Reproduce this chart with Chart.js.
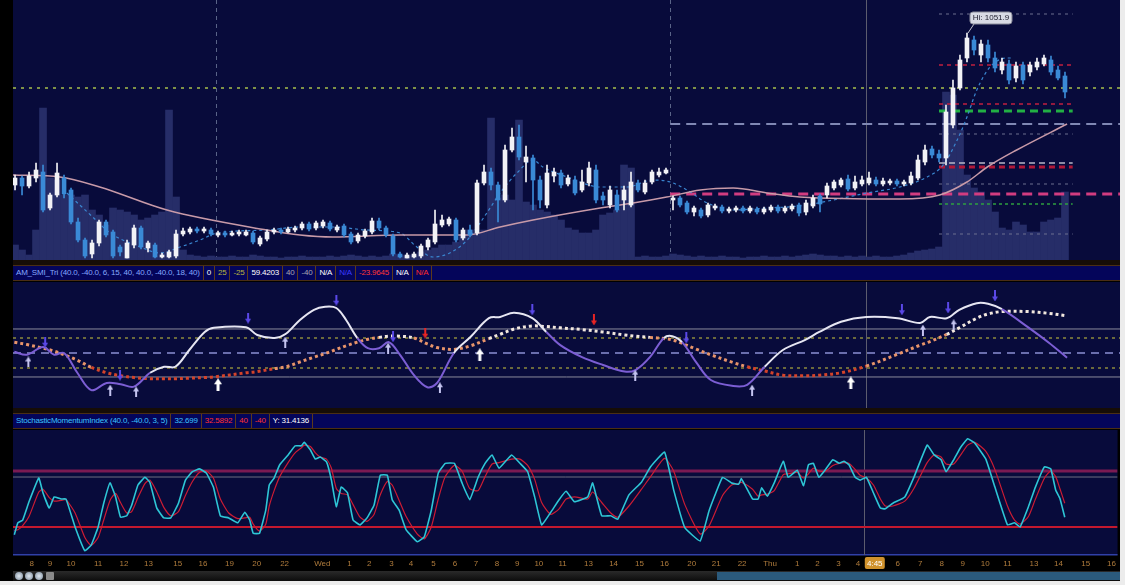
<!DOCTYPE html>
<html>
<head>
<meta charset="utf-8">
<script src="https://cdn.jsdelivr.net/npm/chart.js@4.4.1/dist/chart.umd.min.js"></script>
<style>
  html, body { margin: 0; padding: 0; background: #ececec; }
  #wrap { position: absolute; left: 0; top: 0; width: 1120px; height: 581px; background: #000; overflow: hidden; }
  canvas { position: absolute; left: 13px; }
  .band { position: absolute; left: 13px; width: 1107px; background: #160d06; }
  .hdr { position: absolute; left: 13px; width: 1107px; height: 14px; background: #04055a;
         border-top: 1px solid #4a2e14; border-bottom: 1px solid #4a2e14;
         font: 8px "Liberation Sans", Arial, sans-serif; letter-spacing: -0.2px; line-height: 14px;
         display: flex; white-space: nowrap; }
  .hdr span { padding: 0 3px; border-right: 1px solid #5c3a1a; }
  #foot { position: absolute; left: 13px; top: 571px; width: 1107px; height: 10px;
          background: linear-gradient(#2a2a2a, #0c0c0c); }
  #scroll { position: absolute; left: 704px; top: 1px; width: 403px; height: 8px; background: #2b5a7c; }
  .ico { position: absolute; top: 1px; width: 8px; height: 8px; border-radius: 50%; background: radial-gradient(#e0e8f0, #7a8a9a); }
</style>
</head>
<body>
<div id="wrap">
  <canvas id="price" width="1107" height="260" style="top:0"></canvas>
  <div class="band" style="top:260px;height:5px"></div>
  <div class="hdr" style="top:265px">
    <span style="color:#84a8ff">AM_SMI_Tri (40.0, -40.0, 6, 15, 40, 40.0, -40.0, 18, 40)</span>
    <span style="color:#fff">0</span>
    <span style="color:#b8b440">25</span>
    <span style="color:#b8b440">-25</span>
    <span style="color:#fff">59.4203</span>
    <span style="color:#a8a8b0">40</span>
    <span style="color:#a8a8b0">-40</span>
    <span style="color:#fff">N/A</span>
    <span style="color:#3a3aff">N/A</span>
    <span style="color:#ff3636">-23.9645</span>
    <span style="color:#fff">N/A</span>
    <span style="color:#ff2a2a">N/A</span>
  </div>
  <canvas id="smi" width="1107" height="126" style="top:282px"></canvas>
  <div class="band" style="top:408px;height:5px"></div>
  <div class="hdr" style="top:413px">
    <span style="color:#3cc4ff">StochasticMomentumIndex (40.0, -40.0, 3, 5)</span>
    <span style="color:#3cc4ff">32.699</span>
    <span style="color:#ff3030">32.5892</span>
    <span style="color:#ff3030">40</span>
    <span style="color:#ff3030">-40</span>
    <span style="color:#fff">Y: 31.4136</span>
  </div>
  <canvas id="stoch" width="1107" height="141" style="top:430px"></canvas>
  <div id="foot">
    <div class="ico" style="left:2px"></div>
    <div class="ico" style="left:12px"></div>
    <div class="ico" style="left:22px"></div>
    <div class="ico" style="left:33px;border-radius:1px;background:#8a8a8a"></div>
    <div id="scroll"></div>
  </div>
</div>

<script>
// x is the bar number (one bar every 20 minutes)
const xMin = -0.29, xMax = 157.86;

const tickPos = [2.4, 5, 8, 11.9, 15.6, 19.1, 23.3, 26.9, 30.7, 34.6,
  38.6, 44, 47.9, 50.7, 53.9, 56.7, 59.9, 63, 66, 69,
  71.9, 75, 78.4, 82.1, 85.7, 89.4, 93, 96.9, 100.4, 104.1,
  108.1, 112, 114.9, 117.9, 120.7, 123.1, 126.4, 129.6, 132.7, 135.7,
  138.9, 142.1, 145.9, 149.4, 153.3, 157];
const tickLabels = ['8', '9', '10', '11', '12', '13', '15', '16', '19', '20',
  '22', 'Wed', '1', '2', '3', '4', '5', '6', '7', '8',
  '9', '10', '11', '13', '14', '15', '16', '20', '21', '22',
  'Thu', '1', '2', '3', '4', '4:45', '6', '7', '8', '9',
  '10', '11', '13', '14', '15', '16'];

// price bars
const opens = [
  1021.5, 1022.9, 1021.3, 1022.9, 1024.1, 1016.9, 1019.5, 1022.9, 1020.5, 1014.1,
  1010.5, 1007.7, 1009.9, 1014.1, 1012.1, 1009.1, 1006.9, 1009.5, 1012.9, 1008.9,
  1009.5, 1007.1, 1007.1, 1007.3, 1011.7, 1012.1, 1012.7, 1012.3, 1012.5, 1011.5,
  1011.9, 1011.5, 1011.7, 1011.5, 1011.9, 1009.7, 1010.7, 1012.1, 1012.5, 1012.1,
  1012.5, 1012.9, 1013.7, 1012.9, 1013.3, 1013.9, 1012.5, 1013.3, 1011.7, 1010.3,
  1011.3, 1012.1, 1014.3, 1012.9, 1011.3, 1007.7, 1006.9, 1007.1, 1007.3, 1009.1,
  1010.1, 1013.5, 1013.7, 1014.5, 1010.9, 1012.5, 1011.9, 1021.9, 1024.1, 1021.5,
  1018.5, 1028.5, 1031.1, 1026.1, 1026.9, 1022.5, 1017.5, 1023.3, 1023.9, 1021.7,
  1022.5, 1020.5, 1021.9, 1024.5, 1019.3, 1017.5, 1019.5, 1018.5, 1017.5, 1021.9,
  1020.1, 1022.1, 1023.5, 1023.9, 1018.5, 1018.9, 1017.9, 1016.1, 1016.5, 1015.5,
  1016.9, 1017.1, 1016.3, 1016.5, 1016.9, 1016.3, 1016.7, 1016.1, 1016.5, 1017.1,
  1016.3, 1016.7, 1017.5, 1016.1, 1017.3, 1019.3, 1019.5, 1020.9, 1021.5, 1022.7,
  1020.9, 1021.7, 1021.9, 1022.5, 1021.7, 1021.9, 1022.3, 1021.7, 1021.9, 1022.9,
  1026.1, 1028.7, 1027.7, 1026.9, 1033.5, 1040.9, 1046.9, 1050.5, 1047.5, 1049.5,
  1046.9, 1044.5, 1045.7, 1042.9, 1045.5, 1044.1, 1045.1, 1045.7, 1046.5, 1044.5, 1043.3];
const closes = [
  1022.9, 1021.3, 1023.3, 1024.5, 1016.5, 1019.5, 1023.9, 1019.7, 1014.1, 1010.5,
  1007.3, 1009.9, 1014.1, 1011.5, 1007.3, 1008.1, 1009.9, 1012.9, 1009.1, 1009.9,
  1007.1, 1007.5, 1008.1, 1011.7, 1012.3, 1012.7, 1012.3, 1012.7, 1011.7, 1011.9,
  1011.5, 1011.9, 1012.1, 1012.1, 1010.1, 1010.9, 1012.1, 1012.5, 1012.1, 1012.7,
  1012.9, 1013.7, 1012.7, 1013.9, 1014.1, 1012.7, 1013.1, 1011.5, 1010.1, 1011.5,
  1012.3, 1014.3, 1012.9, 1011.5, 1007.7, 1007.1, 1007.5, 1007.7, 1009.3, 1010.5,
  1013.7, 1014.5, 1014.7, 1010.5, 1012.5, 1011.5, 1021.9, 1024.1, 1021.5, 1018.5,
  1028.5, 1031.1, 1027.1, 1027.1, 1022.5, 1018.5, 1023.9, 1024.1, 1021.5, 1022.9,
  1019.9, 1022.1, 1024.9, 1018.5, 1018.5, 1020.5, 1016.5, 1020.5, 1022.1, 1020.5,
  1021.9, 1024.1, 1024.1, 1024.5, 1018.9, 1017.5, 1016.1, 1016.9, 1015.3, 1017.5,
  1017.3, 1016.3, 1016.7, 1016.9, 1016.3, 1016.9, 1016.1, 1016.7, 1017.1, 1016.3,
  1016.9, 1017.3, 1015.9, 1017.9, 1018.9, 1017.7, 1021.3, 1022.1, 1022.5, 1020.7,
  1022.1, 1022.5, 1022.9, 1021.7, 1022.3, 1022.3, 1021.7, 1022.1, 1023.3, 1026.5,
  1028.5, 1027.5, 1026.9, 1036.1, 1040.9, 1046.5, 1050.9, 1048.5, 1049.7, 1046.9,
  1044.9, 1046.1, 1042.5, 1045.3, 1042.5, 1045.5, 1046.1, 1046.9, 1044.1, 1042.9, 1040.1];
const highs = [
  1023.5, 1023.3, 1024.1, 1025.9, 1025.5, 1019.9, 1025.9, 1023.5, 1020.9, 1014.9,
  1010.9, 1010.5, 1014.5, 1014.5, 1012.5, 1009.5, 1010.5, 1013.5, 1013.3, 1010.3,
  1009.9, 1007.9, 1008.5, 1012.5, 1012.9, 1013.1, 1013.1, 1013.1, 1012.9, 1012.3,
  1012.3, 1012.3, 1012.5, 1012.5, 1012.3, 1011.3, 1012.5, 1012.9, 1012.9, 1013.1,
  1013.3, 1014.1, 1014.1, 1014.3, 1014.5, 1014.3, 1013.5, 1013.7, 1012.1, 1011.9,
  1012.7, 1014.9, 1014.9, 1013.3, 1011.7, 1008.1, 1007.9, 1008.1, 1009.7, 1010.9,
  1016.5, 1015.5, 1015.1, 1014.9, 1012.9, 1013.5, 1022.5, 1025.5, 1024.9, 1022.1,
  1029.5, 1032.9, 1033.5, 1029.3, 1027.5, 1023.3, 1025.5, 1024.9, 1024.5, 1023.5,
  1023.3, 1024.5, 1026.1, 1025.5, 1020.1, 1021.3, 1020.5, 1021.3, 1024.1, 1022.5,
  1022.5, 1024.5, 1024.9, 1024.9, 1019.3, 1019.3, 1018.3, 1017.3, 1016.9, 1017.9,
  1017.7, 1017.5, 1017.1, 1017.3, 1017.3, 1017.3, 1017.1, 1017.1, 1017.5, 1017.5,
  1017.3, 1017.7, 1017.9, 1018.5, 1019.5, 1019.7, 1021.9, 1022.5, 1022.9, 1023.5,
  1023.3, 1023.3, 1024.1, 1023.1, 1022.9, 1022.7, 1022.7, 1022.5, 1024.1, 1027.5,
  1029.5, 1029.3, 1028.5, 1037.5, 1042.5, 1047.5, 1051.9, 1051.3, 1050.5, 1050.5,
  1048.1, 1046.9, 1046.5, 1046.1, 1046.1, 1046.1, 1046.9, 1047.5, 1047.3, 1045.3, 1044.1];
const lows = [
  1020.5, 1019.5, 1020.9, 1022.1, 1016.1, 1016.5, 1019.1, 1018.9, 1013.7, 1010.1,
  1006.9, 1006.9, 1009.3, 1011.1, 1006.9, 1007.3, 1006.9, 1008.9, 1008.7, 1008.1,
  1006.9, 1006.9, 1006.9, 1006.9, 1011.3, 1011.7, 1011.9, 1011.9, 1011.3, 1011.1,
  1011.1, 1011.3, 1011.3, 1011.3, 1009.7, 1009.3, 1010.3, 1011.7, 1011.7, 1011.9,
  1012.1, 1012.5, 1012.3, 1012.5, 1012.9, 1012.3, 1012.1, 1011.1, 1009.7, 1009.9,
  1010.9, 1011.7, 1012.5, 1011.1, 1007.3, 1006.9, 1006.9, 1006.9, 1006.9, 1008.5,
  1009.7, 1013.1, 1013.3, 1010.1, 1010.5, 1011.1, 1011.5, 1021.5, 1020.5, 1014.1,
  1018.1, 1028.1, 1026.5, 1022.1, 1016.5, 1016.9, 1016.9, 1022.1, 1020.9, 1021.3,
  1019.5, 1020.1, 1021.3, 1017.9, 1017.5, 1016.9, 1016.1, 1016.5, 1017.1, 1020.1,
  1019.7, 1021.7, 1023.1, 1023.7, 1016.5, 1017.1, 1015.7, 1015.3, 1014.9, 1015.1,
  1016.5, 1015.9, 1015.9, 1016.1, 1015.9, 1015.9, 1015.7, 1015.7, 1016.1, 1015.9,
  1015.9, 1016.3, 1015.3, 1015.5, 1016.9, 1016.1, 1018.9, 1020.5, 1021.1, 1020.3,
  1020.5, 1021.3, 1021.5, 1021.3, 1021.3, 1021.5, 1021.3, 1021.3, 1021.5, 1022.5,
  1025.5, 1026.9, 1026.1, 1025.5, 1032.9, 1040.5, 1046.1, 1047.5, 1046.1, 1046.1,
  1044.1, 1043.7, 1041.7, 1042.1, 1041.7, 1043.3, 1044.5, 1045.3, 1043.5, 1042.5, 1038.9];
const volumes = [
  150, 100, 50, 300, 1520, 820, 800, 650, 650, 630,
  650, 500, 450, 350, 520, 500, 480, 450, 400, 420,
  450, 480, 1500, 630, 100, 50, 40, 30, 40, 30,
  30, 40, 30, 30, 50, 40, 30, 30, 20, 30,
  30, 40, 30, 30, 30, 40, 30, 40, 50, 40,
  30, 40, 30, 40, 60, 50, 40, 50, 80, 100,
  120, 150, 150, 180, 250, 300, 270, 300, 1420, 620,
  650, 600, 1400, 580, 550, 500, 480, 450, 400, 320,
  300, 270, 270, 300, 450, 470, 500, 950, 920, 30,
  40, 30, 30, 40, 60, 50, 40, 30, 40, 30,
  30, 40, 30, 30, 20, 30, 30, 40, 30, 30,
  40, 30, 40, 50, 60, 50, 40, 40, 30, 40,
  30, 40, 30, 40, 30, 30, 40, 50, 70, 90,
  100, 110, 130, 1680, 1650, 1300, 850, 720, 680, 600,
  480, 320, 300, 380, 350, 280, 280, 380, 400, 420, 680];

// slow average (pink) and fast average (blue dashed)
const maX = [-0.29, 6.4, 12.1, 21.7, 36, 40.7, 45.4, 55, 64.6, 69.3, 74, 83.6, 88.3, 93.1,
  97.9, 102.6, 107.4, 112.1, 126.4, 132.1, 136, 138.9, 143.1, 150.3];
const maY = [1023.5, 1023.1, 1021.1, 1016.5, 1012.5, 1011.5, 1011.1, 1011.5, 1011.5, 1013.1,
  1014.5, 1016.9, 1017.9, 1019.1, 1020.5, 1020.9, 1019.9, 1019.1, 1018.7, 1019.5, 1022.1,
  1025.1, 1028.5, 1033.7];
const fastX = [7.4, 11.1, 13.6, 17.9, 20.7, 23.6, 26.4, 28.9, 36, 40.7, 45.4, 50.3, 55, 57.4,
  59.7, 62.1, 64.6, 67.4, 69.3, 71.7, 74, 75.4, 78.9, 83.6, 87.4, 91.1, 93.6, 96, 98.9, 102.6,
  107.4, 112.1, 116.9, 121.7, 126.4, 130.3, 132.6, 134.6, 136, 137.4, 139.3, 141.7, 142.6];
const fastY = [1019.9, 1015.1, 1011.9, 1009.1, 1007.9, 1009.1, 1010.5, 1011.9, 1012.5, 1013.1,
  1013.1, 1012.5, 1011.9, 1009.1, 1007.1, 1007.9, 1010.5, 1015.9, 1019.9, 1023.9, 1026.5,
  1025.1, 1023.1, 1021.1, 1021.1, 1022.5, 1022.1, 1020.5, 1017.9, 1016.5, 1016.9, 1017.3,
  1018.5, 1019.9, 1021.1, 1023.1, 1025.5, 1030.5, 1035.1, 1040.5, 1045.1, 1046.9, 1046.9];

// price levels
const fullLevel = 1040.9;
const longLevels = [1033.7, 1019.7];
const clusterLevels = [1055.7, 1045.5, 1037.7, 1036.3, 1031.7, 1025.9, 1025.1, 1021.7, 1017.7, 1011.7];
const longFrom = 93.6, clusterFrom = 132, clusterTo = 151.1;
const sessionBreaks = [28.7, 93.6];
const cursorX = 121.6;

// AM_SMI_Tri
const smiLevels = [40, 25, 0, -25, -40];
const smiX = [-0.1, 1.7, 4, 5.6, 7, 8.9, 10.9, 13.1, 15.1, 17,
  19.3, 21.3, 22.9, 24.9, 27.1, 28.4, 33, 34.6, 37.1, 38.7,
  40.7, 42.7, 44.3, 45.9, 47.3, 48.9, 50.4, 52, 53.4, 55,
  57, 58.9, 60.3, 62.7, 65.1, 67.7, 69.3, 71.3, 73.9, 75.9,
  77.9, 81, 84, 87.1, 88.7, 90.7, 92.7, 93.9, 95.3, 97.4,
  99.4, 102.6, 104.6, 107.1, 109.7, 112.9, 114.9, 118, 121.6, 126.1,
  129.3, 130.7, 133.1, 134.9, 137.4, 139, 141, 144.7, 147.7, 150.3];
const smiMain = [2, -3, 10, -3, 0, -33, -62, -50, -52, -56,
  -33, -23, -23, 5, 35, 42, 43, 30, 25, 32,
  55, 72, 77, 75, 55, 25, 8, 8, 18, -3,
  -37, -57, -50, 0, 27, 58, 60, 67, 58, 35,
  13, -7, -20, -31, -28, -7, 25, 28, 18, -17,
  -45, -55, -53, -23, 5, 22, 35, 52, 60, 58,
  50, 60, 58, 72, 83, 82, 73, 43, 17, -8];
const smiSignal = [18, 14, 8, 3, -3, -12, -24, -33, -38, -41,
  -43, -43, -43, -42, -41, -40, -33, -31, -26, -23,
  -15, -7, -1, 6, 12, 18, 23, 26, 28, 28,
  25, 15, 9, 6, 12, 24, 31, 40, 45, 44,
  42, 39, 35, 30, 28, 26, 24, 22, 16, 6,
  -3, -16, -23, -30, -37, -38, -37, -33, -22, -2,
  13, 19, 31, 42, 58, 65, 69, 69, 66, 62];
const sellX = [4.3, 15, 33.3, 45.9, 54, 73.9, 95.9, 126.7, 133.3, 140];
const sellY = [18, -37, 58, 88, 27, 72, 25, 72, 75, 95];
const exitX = [58.6, 82.7];
const exitY = [33, 55];
const buyX = [1.9, 13.6, 17.3, 38.6, 53.3, 60.7, 88.6, 105.3, 129.7, 134.1];
const buyY = [-15, -62, -65, 18, 8, -58, -37, -62, 38, 47];
const strongBuyX = [29, 66.4, 119.4];
const strongBuyY = [-53, -3, -50];

// StochasticMomentumIndex
const stochLevels = [40, -40];
const cursorY = 31.4136;
const stochX = [-0.1, 0.4, 1.1, 2, 3.4, 4, 4.9, 5.6, 6.6, 7.3,
  8.6, 10, 10.9, 11.9, 12.7, 13.6, 14.4, 15.1, 16, 16.7,
  17.6, 18.6, 19.3, 20.3, 21.3, 22.3, 23.4, 24.4, 25.4, 26.4,
  27.4, 28.4, 29.4, 30.6, 31.9, 32.9, 33.6, 34.1, 35, 35.9,
  36.4, 37.1, 37.9, 39.1, 40.1, 41, 41.4, 42.3, 43, 43.7,
  44.6, 45.3, 46, 46.7, 47.6, 48.4, 49.4, 50.4, 51.4, 52.3,
  53.3, 54, 55, 56, 57.6, 58.6, 59.6, 60.6, 61.6, 62.9,
  64, 65.1, 66.3, 67.3, 68.3, 69.3, 71.1, 72.3, 73.4, 74.4,
  75.4, 76.7, 77.9, 78.9, 80.1, 82, 82.7, 84, 85.3, 86.3,
  87.9, 89.7, 91, 93, 94.3, 95.9, 98.1, 99.4, 101.3, 102.6,
  103.6, 104, 105.6, 106.4, 106.9, 107.7, 108.7, 110, 110.7, 112,
  112.9, 113.6, 114.3, 115.1, 116.1, 117.1, 118, 118.7, 119.4, 120.3,
  121, 121.9, 122.9, 123.9, 124.6, 125.7, 127.4, 128.7, 130.6, 131.6,
  132.6, 133.3, 134.4, 135.4, 136.4, 137.4, 139, 140.3, 142.1, 143.1,
  143.9, 145.1, 146.1, 147.4, 148.3, 149, 149.6, 150.3];
const stochK = [-51, -34, -30, -4, 30, 9, -13, 3, 0, 0,
  -40, -74, -66, -40, -6, 23, 3, -26, -24, -9,
  20, 31, 24, -13, -27, -27, -6, 27, 39, 43,
  37, 17, -24, -27, -34, -19, -30, -49, -49, -16,
  20, 30, 49, 63, 76, 76, 81, 70, 57, 60,
  53, 27, -11, 17, 9, -30, -37, -27, -9, 34,
  34, -1, -16, -44, -61, -54, -16, 37, 51, 51,
  23, -1, 31, 51, 63, 44, 63, 51, 39, 3,
  -37, -19, -1, 11, -4, 3, 23, -24, -24, -29,
  6, 24, 46, 67, 13, -41, -60, -16, 31, 23,
  21, 29, 0, 0, 16, 4, 23, 54, 31, 41,
  19, 49, 51, 31, 43, 56, 51, 54, 49, 31,
  27, 31, 9, -13, -14, -6, 3, 31, 77, 63,
  56, 39, 56, 74, 86, 80, 57, 17, -37, -34,
  -40, -11, 17, 46, 43, 13, 1, -26];
const stochD = [-45, -44, -38, -25, 10, 14, 2, -3, -2, -1,
  -20, -55, -66, -55, -30, -2, 8, -5, -20, -18,
  2, 22, 27, 10, -12, -24, -18, 5, 25, 38,
  40, 30, 0, -20, -28, -27, -26, -36, -46, -36,
  -10, 12, 32, 52, 66, 73, 77, 75, 66, 60,
  57, 44, 15, 8, 6, -8, -26, -32, -22, 6,
  25, 20, -2, -25, -50, -57, -40, 0, 32, 48,
  40, 15, 12, 32, 50, 52, 57, 57, 48, 28,
  -5, -22, -14, 0, 3, 0, 10, -5, -20, -26,
  -10, 14, 32, 58, 40, -8, -50, -38, 5, 20,
  22, 24, 14, 4, 6, 7, 12, 35, 36, 38,
  30, 36, 44, 40, 40, 48, 51, 52, 51, 42,
  34, 30, 20, 0, -10, -10, -3, 15, 52, 63,
  60, 50, 50, 63, 77, 81, 68, 42, -10, -30,
  -36, -25, 0, 30, 40, 32, 15, -6];

const NAVY = '#080b3b';
const pts = (xs, ys) => xs.map((x, i) => ({ x, y: ys[i] }));

function hline(v, x0, x1, color, width, dash, yAxisID) {
  return { type: 'line', data: [{ x: x0, y: v }, { x: x1, y: v }], borderColor: color, borderWidth: width,
    borderDash: dash, pointRadius: 0, order: 8, yAxisID: yAxisID || 'y' };
}

// background, vertical guides
function panel(vlines) {
  return {
    id: 'panel',
    beforeDraw(chart) {
      const { ctx, chartArea: a } = chart;
      ctx.save();
      ctx.fillStyle = '#000';
      ctx.fillRect(0, 0, chart.width, chart.height);
      ctx.fillStyle = NAVY;
      ctx.fillRect(a.left, a.top, a.width, a.height);
      ctx.restore();
    },
    beforeDatasetsDraw(chart) {
      const { ctx, chartArea: a, scales } = chart;
      ctx.save();
      vlines.forEach(v => {
        const px = Math.round(scales.x.getPixelForValue(v.x)) + 0.5;
        ctx.strokeStyle = v.color;
        ctx.lineWidth = 1;
        ctx.setLineDash(v.dash || []);
        ctx.beginPath();
        ctx.moveTo(px, a.top);
        ctx.lineTo(px, a.bottom);
        ctx.stroke();
      });
      ctx.restore();
    }
  };
}

const baseOpts = (yMin, yMax) => ({
  responsive: false, animation: false, devicePixelRatio: 1, events: [],
  layout: { padding: 0, autoPadding: false },
  plugins: { legend: { display: false }, tooltip: { enabled: false } },
  scales: {
    x: { type: 'linear', min: xMin, max: xMax, display: false, offset: false },
    y: { min: yMin, max: yMax, display: false }
  }
});

// ---------- price panel ----------
const candleColors = closes.map((c, i) => c >= opens[i] ? '#f2f2f6' : '#3a8ad6');
const priceOpts = baseOpts(1006.5, 1058.5);
priceOpts.scales.yv = { min: 0, max: 2600, display: false };

const hiLabel = {
  id: 'hiLabel',
  afterDatasetsDraw(chart) {
    const { ctx, scales } = chart;
    const top = Math.max(...highs);
    const i = highs.indexOf(top);
    const px = scales.x.getPixelForValue(i), py = scales.y.getPixelForValue(top);
    ctx.save();
    ctx.strokeStyle = '#c8c8d0';
    ctx.lineWidth = 1;
    ctx.beginPath();
    ctx.moveTo(px + 1, py);
    ctx.lineTo(px + 7, py - 9);
    ctx.stroke();
    ctx.fillStyle = '#d8dae4';
    ctx.strokeStyle = '#8a8c9a';
    ctx.beginPath();
    ctx.roundRect(px + 3, py - 21, 42, 12, 3);
    ctx.fill();
    ctx.stroke();
    ctx.fillStyle = '#1a1a2a';
    ctx.font = '8px "Liberation Sans", Arial, sans-serif';
    ctx.textAlign = 'center';
    ctx.textBaseline = 'middle';
    ctx.fillText('Hi: ' + top.toFixed(1), px + 24, py - 15);
    ctx.restore();
  }
};

const clusterStyle = [
  ['#6c7090', 1, [3, 4]], ['#c02040', 1.5, [4, 4]], ['#c02040', 1.5, [4, 4]], ['#22b044', 3, [8, 5]],
  ['#6c7090', 1, [3, 4]], ['#b8b8c8', 1.5, [6, 4]], ['#b01838', 3, [6, 4]], ['#6c7090', 1, [3, 4]],
  ['#2ea040', 1.5, [3, 3]], ['#6c7090', 1, [3, 4]]
];

new Chart(document.getElementById('price'), {
  type: 'bar',
  data: {
    datasets: [
      { type: 'bar', data: pts(volumes.map((v, i) => i), volumes), yAxisID: 'yv', backgroundColor: '#262d68',
        barThickness: 7, grouped: false, order: 10 },
      hline(fullLevel, xMin, xMax, '#a6c04c', 1.5, [3, 5]),
      hline(longLevels[0], longFrom, xMax, '#8088b4', 2, [10, 6]),
      hline(longLevels[1], longFrom, xMax, '#d23c80', 3, [10, 6]),
      ...clusterLevels.map((v, k) => hline(v, clusterFrom, clusterTo, ...clusterStyle[k])),
      { type: 'line', data: pts(maX, maY), borderColor: '#c89aa8', borderWidth: 1.5, pointRadius: 0,
        cubicInterpolationMode: 'monotone', order: 6 },
      { type: 'line', data: pts(fastX, fastY), borderColor: '#3a86d0', borderWidth: 1.2, borderDash: [3, 3],
        pointRadius: 0, cubicInterpolationMode: 'monotone', order: 7 },
      { type: 'bar', data: highs.map((h, i) => ({ x: i, y: [lows[i], h] })), backgroundColor: candleColors,
        barThickness: 1, grouped: false, order: 2 },
      { type: 'bar', data: opens.map((o, i) => ({ x: i, y: [o, closes[i]] })), backgroundColor: candleColors,
        barThickness: 4, minBarLength: 1.5, grouped: false, order: 1 }
    ]
  },
  options: priceOpts,
  plugins: [panel([
    { x: sessionBreaks[0], color: '#5a6488', dash: [4, 4] },
    { x: sessionBreaks[1], color: '#5a6488', dash: [4, 4] },
    { x: cursorX, color: '#5c5c6e' }
  ]), hiLabel]
});

// ---------- SMI panel ----------
function arrow(color, down, w, h) {
  const c = document.createElement('canvas');
  c.width = w; c.height = h;
  const g = c.getContext('2d');
  g.fillStyle = color;
  const sw = Math.max(2, Math.round(w / 3));
  const head = Math.round(h * 0.45);
  if (down) {
    g.fillRect((w - sw) / 2, 0, sw, h - head + 1);
    g.beginPath(); g.moveTo(0, h - head); g.lineTo(w, h - head); g.lineTo(w / 2, h); g.fill();
  } else {
    g.fillRect((w - sw) / 2, head - 1, sw, h - head + 1);
    g.beginPath(); g.moveTo(0, head); g.lineTo(w, head); g.lineTo(w / 2, 0); g.fill();
  }
  return c;
}
const arrowSet = (xs, ys, img) => ({ type: 'scatter', data: pts(xs, ys), pointStyle: img, pointRadius: 5, order: 1 });

const smiStyle = [['#8a8a9c', 1, []], ['#8c8a3e', 1.5, [3, 4]], ['#8a90d4', 1.5, [8, 6]],
  ['#8c8a3e', 1.5, [3, 4]], ['#8a8a9c', 1, []]];

new Chart(document.getElementById('smi'), {
  type: 'line',
  data: {
    datasets: [
      ...smiLevels.map((v, k) => hline(v, xMin, xMax, ...smiStyle[k])),
      { data: pts(smiX, smiSignal), borderWidth: 3, borderDash: [3, 3], pointRadius: 0, tension: 0.35, order: 3,
        borderColor: '#f0e4da',
        segment: { borderColor: c => {
          const m = (smiSignal[c.p0DataIndex] + smiSignal[c.p1DataIndex]) / 2;
          return m > 25 ? '#f2e8de' : (m < -25 ? '#d4432a' : '#e8946a');
        } } },
      { data: pts(smiX, smiMain), borderWidth: 2, pointRadius: 0, tension: 0.35, order: 2, borderColor: '#e6e6f2',
        segment: { borderColor: c => {
          const a = smiMain[c.p0DataIndex] + smiMain[c.p1DataIndex];
          const b = smiSignal[c.p0DataIndex] + smiSignal[c.p1DataIndex];
          return a >= b ? '#e6e6f2' : '#7c5ed4';
        } } },
      arrowSet(sellX, sellY, arrow('#5a48e8', true, 6, 11)),
      arrowSet(exitX, exitY, arrow('#e82424', true, 6, 11)),
      arrowSet(buyX, buyY, arrow('#c4c4f0', false, 6, 11)),
      arrowSet(strongBuyX, strongBuyY, arrow('#ffffff', false, 8, 13))
    ]
  },
  options: baseOpts(-91.7, 118.3),
  plugins: [panel([{ x: cursorX, color: '#5c5c6e' }])]
});

// ---------- Stochastic momentum panel ----------
const stochOpts = baseOpts(-80, 98.6);
stochOpts.scales.x = {
  type: 'linear', min: xMin, max: xMax, offset: false, position: 'bottom',
  grid: { display: false, drawTicks: false, tickLength: 0 }, border: { display: false },
  afterBuildTicks: s => { s.ticks = tickPos.map(v => ({ value: v })); },
  afterFit: s => { s.height = 16; },
  ticks: {
    autoSkip: false, maxRotation: 0, minRotation: 0, padding: 4,
    font: { family: '"Liberation Sans", Arial, sans-serif', size: 8 },
    color: c => tickLabels[c.index] === '4:45' ? '#ffffff' : '#b07c3c',
    callback: (v, i) => tickLabels[i]
  }
};

const axisMark = {
  id: 'axisMark',
  beforeDraw(chart) {
    const { ctx, chartArea: a, scales } = chart;
    const k = tickLabels.indexOf('4:45');
    const px = scales.x.getPixelForValue(tickPos[k]);
    ctx.save();
    ctx.fillStyle = '#d0922c';
    ctx.beginPath();
    ctx.roundRect(px - 10, a.bottom + 2, 20, 12, 2);
    ctx.fill();
    ctx.fillStyle = '#3040a8';
    ctx.fillRect(a.left, a.bottom - 1, a.width, 1.5);
    ctx.restore();
  }
};

new Chart(document.getElementById('stoch'), {
  type: 'line',
  data: {
    datasets: [
      hline(stochLevels[0], xMin, xMax, '#7a1a52', 3, []),
      hline(cursorY, xMin, xMax, '#6e6e80', 1, []),
      hline(stochLevels[1], xMin, xMax, '#c4182e', 2, []),
      { data: pts(stochX, stochD), borderColor: '#cc1c34', borderWidth: 1.2, pointRadius: 0, tension: 0.2, order: 3 },
      { data: pts(stochX, stochK), borderColor: '#2ec6d6', borderWidth: 1.6, pointRadius: 0, tension: 0.1, order: 2 }
    ]
  },
  options: stochOpts,
  plugins: [panel([{ x: cursorX, color: '#5c5c6e' }]), axisMark]
});
</script>
</body>
</html>
